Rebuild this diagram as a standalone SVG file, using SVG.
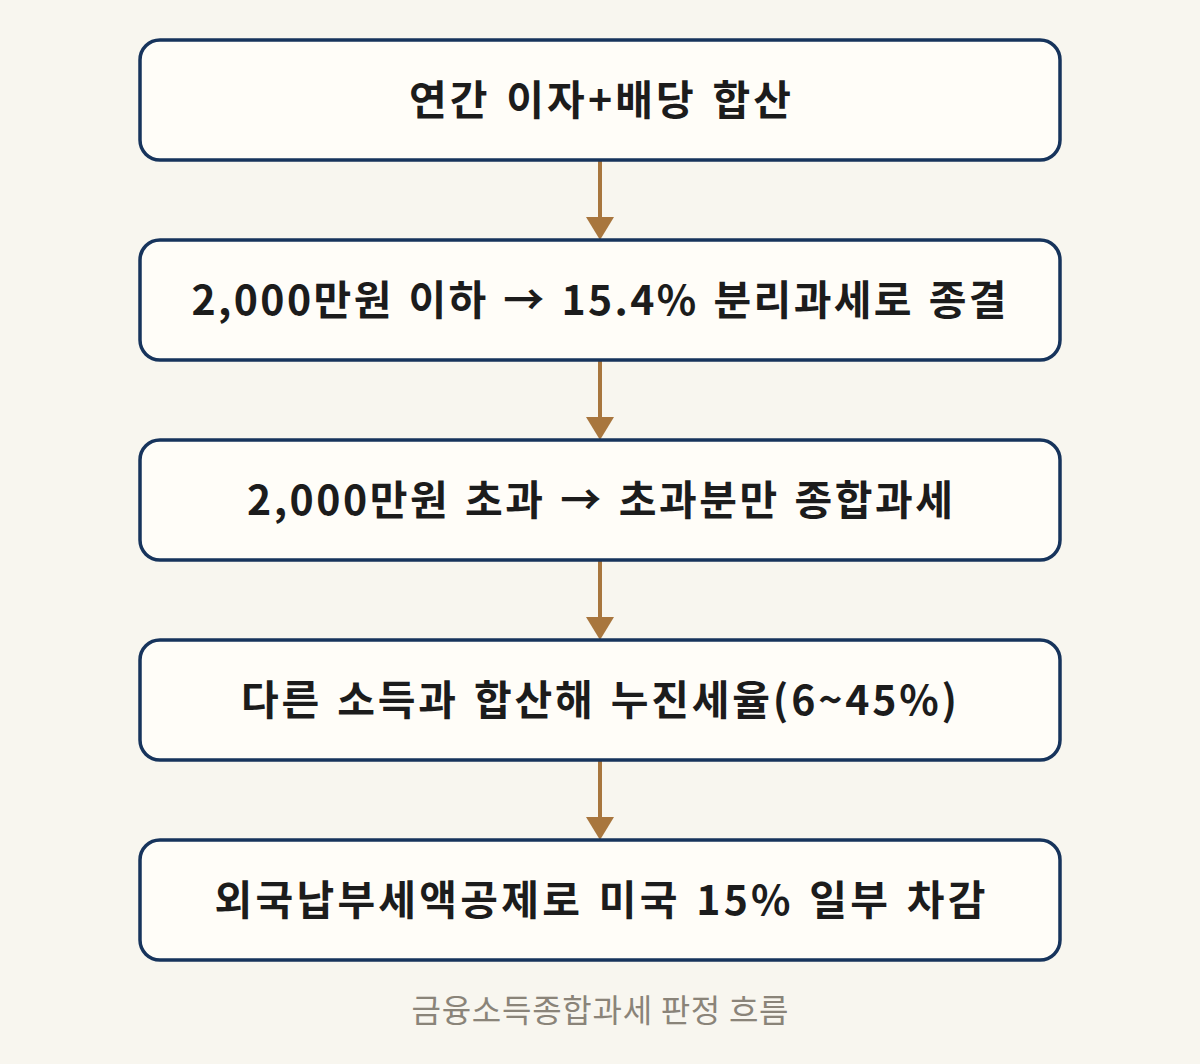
<svg xmlns="http://www.w3.org/2000/svg" width="1200" height="1064" viewBox="0 0 1200 1064">
<defs>
<style>
.box{fill:#fffdf8;stroke:#17345c;stroke-width:3.5}
.lbl{font-family:"Noto Sans CJK KR","Noto Sans",sans-serif;font-weight:700;font-size:41px;fill:#1c1c1c;text-anchor:middle;word-spacing:3px}
.cap{font-family:"Noto Sans CJK KR","Noto Sans",sans-serif;font-weight:400;font-size:32px;fill:#8a8479;text-anchor:middle}
.edge{stroke:#a8763e;stroke-width:4;fill:none}
.head{fill:#a8763e}
</style>
</defs>
<rect width="1200" height="1064" fill="#f8f6ef"/>
<g id="connectors">
<line class="edge" x1="600" y1="160" x2="600" y2="218"/>
<path class="head" d="M586,217 L614,217 L600,240 Z"/>
<line class="edge" x1="600" y1="360" x2="600" y2="418"/>
<path class="head" d="M586,417 L614,417 L600,440 Z"/>
<line class="edge" x1="600" y1="560" x2="600" y2="618"/>
<path class="head" d="M586,617 L614,617 L600,640 Z"/>
<line class="edge" x1="600" y1="760" x2="600" y2="818"/>
<path class="head" d="M586,817 L614,817 L600,840 Z"/>
</g>
<g id="node1">
<rect class="box" x="140" y="40" width="920" height="120" rx="20"/>
<text class="lbl" x="600" y="115" textLength="382" lengthAdjust="spacing">연간 이자+배당 합산</text>
</g>
<g id="node2">
<rect class="box" x="140" y="240" width="920" height="120" rx="20"/>
<text class="lbl" x="599" y="315" textLength="815" lengthAdjust="spacing">2,000만원 이하 → 15.4% 분리과세로 종결</text>
</g>
<g id="node3">
<rect class="box" x="140" y="440" width="920" height="120" rx="20"/>
<text class="lbl" x="600" y="515" textLength="706" lengthAdjust="spacing">2,000만원 초과 → 초과분만 종합과세</text>
</g>
<g id="node4">
<rect class="box" x="140" y="640" width="920" height="120" rx="20"/>
<text class="lbl" x="599" y="715" textLength="716" lengthAdjust="spacing">다른 소득과 합산해 누진세율(6~45%)</text>
</g>
<g id="node5">
<rect class="box" x="140" y="840" width="920" height="120" rx="20"/>
<text class="lbl" x="600" y="915" textLength="771" lengthAdjust="spacing">외국납부세액공제로 미국 15% 일부 차감</text>
</g>
<text class="cap" x="600" y="1022" textLength="377" lengthAdjust="spacing">금융소득종합과세 판정 흐름</text>
</svg>
